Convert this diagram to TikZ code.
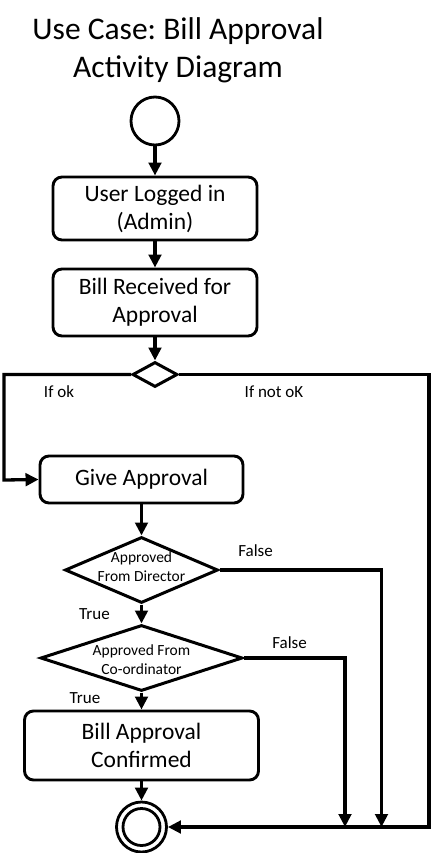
\documentclass[tikz,border=0pt]{standalone}
\usepackage{fontspec}
\setmainfont{Carlito}
\frenchspacing
\usetikzlibrary{arrows.meta,shapes.geometric}
\begin{document}
\begin{tikzpicture}[x=1pt,y=-1pt,
  act/.style={draw, rounded corners=9pt, line width=2.9pt, inner sep=0pt, align=center, font=\fontsize{23.5}{28}\selectfont},
  dec/.style={draw, diamond, inner sep=0pt, line width=3pt},
  dtext/.style={align=center, inner sep=0pt, font=\fontsize{15.5}{19}\selectfont},
  lbl/.style={inner sep=0pt, font=\fontsize{17}{20}\selectfont},
  flow/.style={-{Triangle[length=13pt,width=12.5pt]}, line width=3.3pt},
]
\useasboundingbox (0,0) rectangle (432,853);
\node[align=center, inner sep=0pt, font=\fontsize{31.5}{38}\selectfont] (title) at (178,50) {Use Case: Bill Approval\\Activity Diagram};
\node[draw, circle, line width=2.8pt, minimum size=48pt, inner sep=0pt] (start) at (155,121) {};
\node[act, minimum width=204pt, minimum height=63pt] (box1) at (155,208.5) {User Logged in\\(Admin)};
\node[act, minimum width=204pt, minimum height=67pt] (box2) at (155,302.5) {Bill Received for\\Approval};
\node[dec, minimum width=45pt, minimum height=25pt] (d0) at (155,374.5) {};
\node[act, minimum width=203pt, minimum height=47pt] (give) at (141.5,479.5) {Give Approval};
\node[dec, minimum width=153pt, minimum height=66pt] (d1) at (141.5,570) {};
\node[dtext] (d1t) at (141.5,567) {Approved\\From Director};
\node[dec, minimum width=202pt, minimum height=66pt] (d2) at (141.5,658) {};
\node[dtext] (d2t) at (141.5,660) {Approved From\\Co-ordinator};
\node[act, minimum width=234pt, minimum height=69pt] (box3) at (141.5,745.5) {Bill Approval\\Confirmed};
\node[draw, circle, line width=2.8pt, minimum size=50pt, inner sep=0pt] (final) at (141.5,827) {};
\node[draw, circle, line width=2.8pt, minimum size=37pt, inner sep=0pt] (finalin) at (final.center) {};
\coordinate (lc) at (4,480);
\coordinate (rc) at (429,827);
\coordinate (c1) at (381.5,827);
\coordinate (c2) at (345,827);
\draw[flow] (start.south) -- (box1.north);
\draw[flow] (box1.south) -- (box2.north);
\draw[flow] (box2.south) -- (d0.north);
\draw[flow] (d0.west) -| (lc) -- (give.west);
\draw[flow] (d0.east) -| (rc) -- (final.east);
\draw[flow] (give.south) -- (d1.north);
\draw[flow] (d1.south) -- (d2.north);
\draw[flow] (d2.south) -- (box3.north);
\draw[flow] (box3.south) -- (final.north);
\draw[flow] (d1.east) -| (c1);
\draw[flow] (d2.east) -| (c2);
\node[lbl] (ok) at (59,392) {If ok};
\node[lbl] (notok) at (274,392) {If not oK};
\node[lbl] (f1) at (255.5,551) {False};
\node[lbl] (t1) at (94.5,614) {True};
\node[lbl] (f2) at (289.5,643) {False};
\node[lbl] (t2) at (85,698) {True};
\end{tikzpicture}
\end{document}
